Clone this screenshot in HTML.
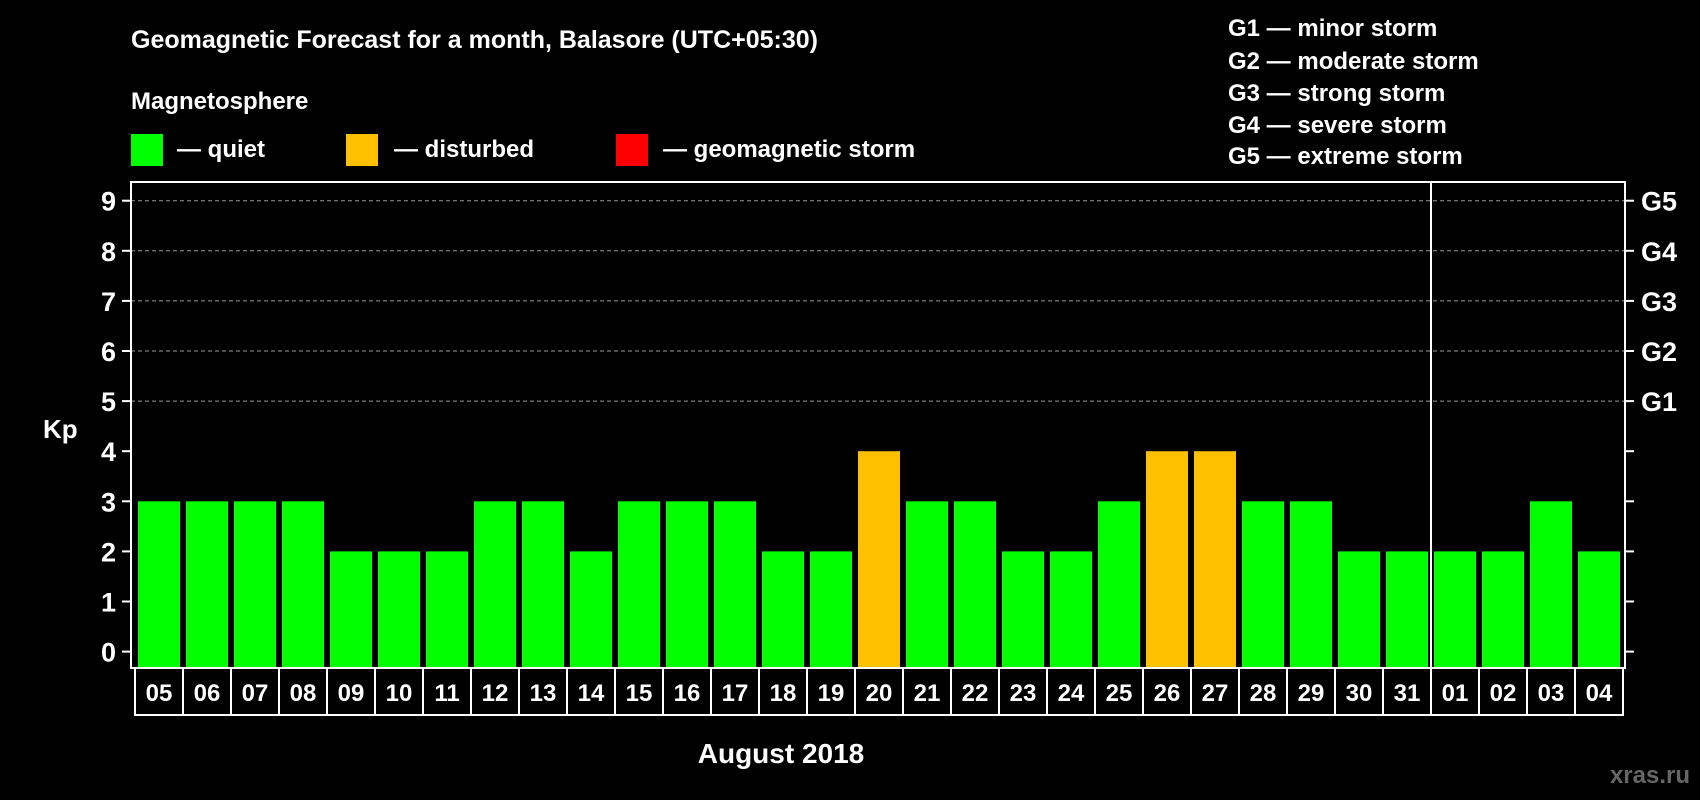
<!DOCTYPE html>
<html><head><meta charset="utf-8">
<style>
html,body{margin:0;padding:0;background:#000;width:1700px;height:800px;overflow:hidden}
svg{display:block}
text{font-family:"Liberation Sans",Arial,sans-serif;font-weight:bold;fill:#fff}
</style></head>
<body>
<svg id="chart" width="1700" height="800" viewBox="0 0 1700 800" xmlns="http://www.w3.org/2000/svg">
  <text x="131" y="48" font-size="25">Geomagnetic Forecast for a month, Balasore (UTC+05:30)</text>
  <text x="131" y="109" font-size="24">Magnetosphere</text>
  <g>
    <rect x="131" y="134" width="32" height="32" fill="#00ff00"/>
    <text x="177" y="157" font-size="24">— quiet</text>
  </g>
  <g>
    <rect x="346" y="134" width="32" height="32" fill="#ffc000"/>
    <text x="394" y="157" font-size="24">— disturbed</text>
  </g>
  <g>
    <rect x="616" y="134" width="32" height="32" fill="#ff0000"/>
    <text x="663" y="157" font-size="24">— geomagnetic storm</text>
  </g>
  <g font-size="24">
    <text x="1228" y="36">G1 — minor storm</text>
    <text x="1228" y="69">G2 — moderate storm</text>
    <text x="1228" y="101">G3 — strong storm</text>
    <text x="1228" y="133">G4 — severe storm</text>
    <text x="1228" y="164">G5 — extreme storm</text>
  </g>
  <text x="43" y="438" font-size="26">Kp</text>
  <text x="781" y="763" font-size="28" text-anchor="middle">August 2018</text>
  <text x="1690" y="783" font-size="24" text-anchor="end" style="fill:#666">xras.ru</text>
  <g id="grid"></g>
  <g id="bars"></g>
  <g id="axes"></g>
</svg>
<script>
const days = ["05","06","07","08","09","10","11","12","13","14","15","16","17","18","19","20","21","22","23","24","25","26","27","28","29","30","31","01","02","03","04"];
const kpValues = [3,3,3,3,2,2,2,3,3,2,3,3,3,2,2,4,3,3,2,2,3,4,4,3,3,2,2,2,2,3,2];
const yTicks = [0,1,2,3,4,5,6,7,8,9];
const stormLabels = ["","","","","","G1","G2","G3","G4","G5"];
const monthBreakIndex = 27;

const NS = "http://www.w3.org/2000/svg";
const plotL = 131, plotR = 1625, plotT = 182, plotB = 668;
const slot0 = 135, slotW = 48, barW = 42;
function y(v){ return 651.6 - v * 50.1; }
function xSlot(i){ return slot0 + i * slotW; }
function mk(tag, attrs, parent){
  const e = document.createElementNS(NS, tag);
  for (const k in attrs) e.setAttribute(k, attrs[k]);
  parent.appendChild(e);
  return e;
}
const grid = document.getElementById('grid');
const bars = document.getElementById('bars');
const axes = document.getElementById('axes');

yTicks.forEach(function(t){
  const yy = y(t);
  if (t >= 5) {
    const g = mk('line', {x1: plotL, x2: plotR, y1: yy, y2: yy, stroke: '#999', 'stroke-width': 1, 'stroke-dasharray': '4,3'}, grid);
    
    
  }
  const tl = mk('line', {x1: plotL - 9, x2: plotL, y1: yy, y2: yy, stroke: '#fff', 'stroke-width': 2}, axes);
  
  
  const tr = mk('line', {x1: plotR, x2: plotR + 9, y1: yy, y2: yy, stroke: '#fff', 'stroke-width': 2}, axes);
  
  
  const lb = mk('text', {x: 116, y: yy + 10, 'font-size': 27, 'text-anchor': 'end'}, axes);
  lb.textContent = t;
  
  
  if (stormLabels[t]) {
    const gl = mk('text', {x: 1641, y: yy + 10, 'font-size': 27}, axes);
    gl.textContent = stormLabels[t];
    
    
  }
});

kpValues.forEach(function(v, i){
  const color = v >= 5 ? '#ff0000' : (v >= 4 ? '#ffc000' : '#00ff00');
  const b = mk('rect', {x: xSlot(i) + 3, y: y(v), width: barW, height: plotB - 1 - y(v), fill: color}, bars);
  
  
  const c = mk('rect', {x: xSlot(i), y: plotB, width: slotW, height: 47, fill: '#000', stroke: '#fff', 'stroke-width': 2}, axes);
  
  
  const t = mk('text', {x: xSlot(i) + slotW / 2, y: plotB + 33, 'font-size': 24, 'text-anchor': 'middle'}, axes);
  t.textContent = days[i];
  
  
});

const frame = mk('rect', {x: plotL, y: plotT, width: plotR - plotL, height: plotB - plotT, fill: 'none', stroke: '#fff', 'stroke-width': 2}, axes);


const sx = xSlot(monthBreakIndex);
const sep = mk('line', {x1: sx, x2: sx, y1: plotT, y2: plotB + 47, stroke: '#fff', 'stroke-width': 2}, axes);


</script>
</body></html>
